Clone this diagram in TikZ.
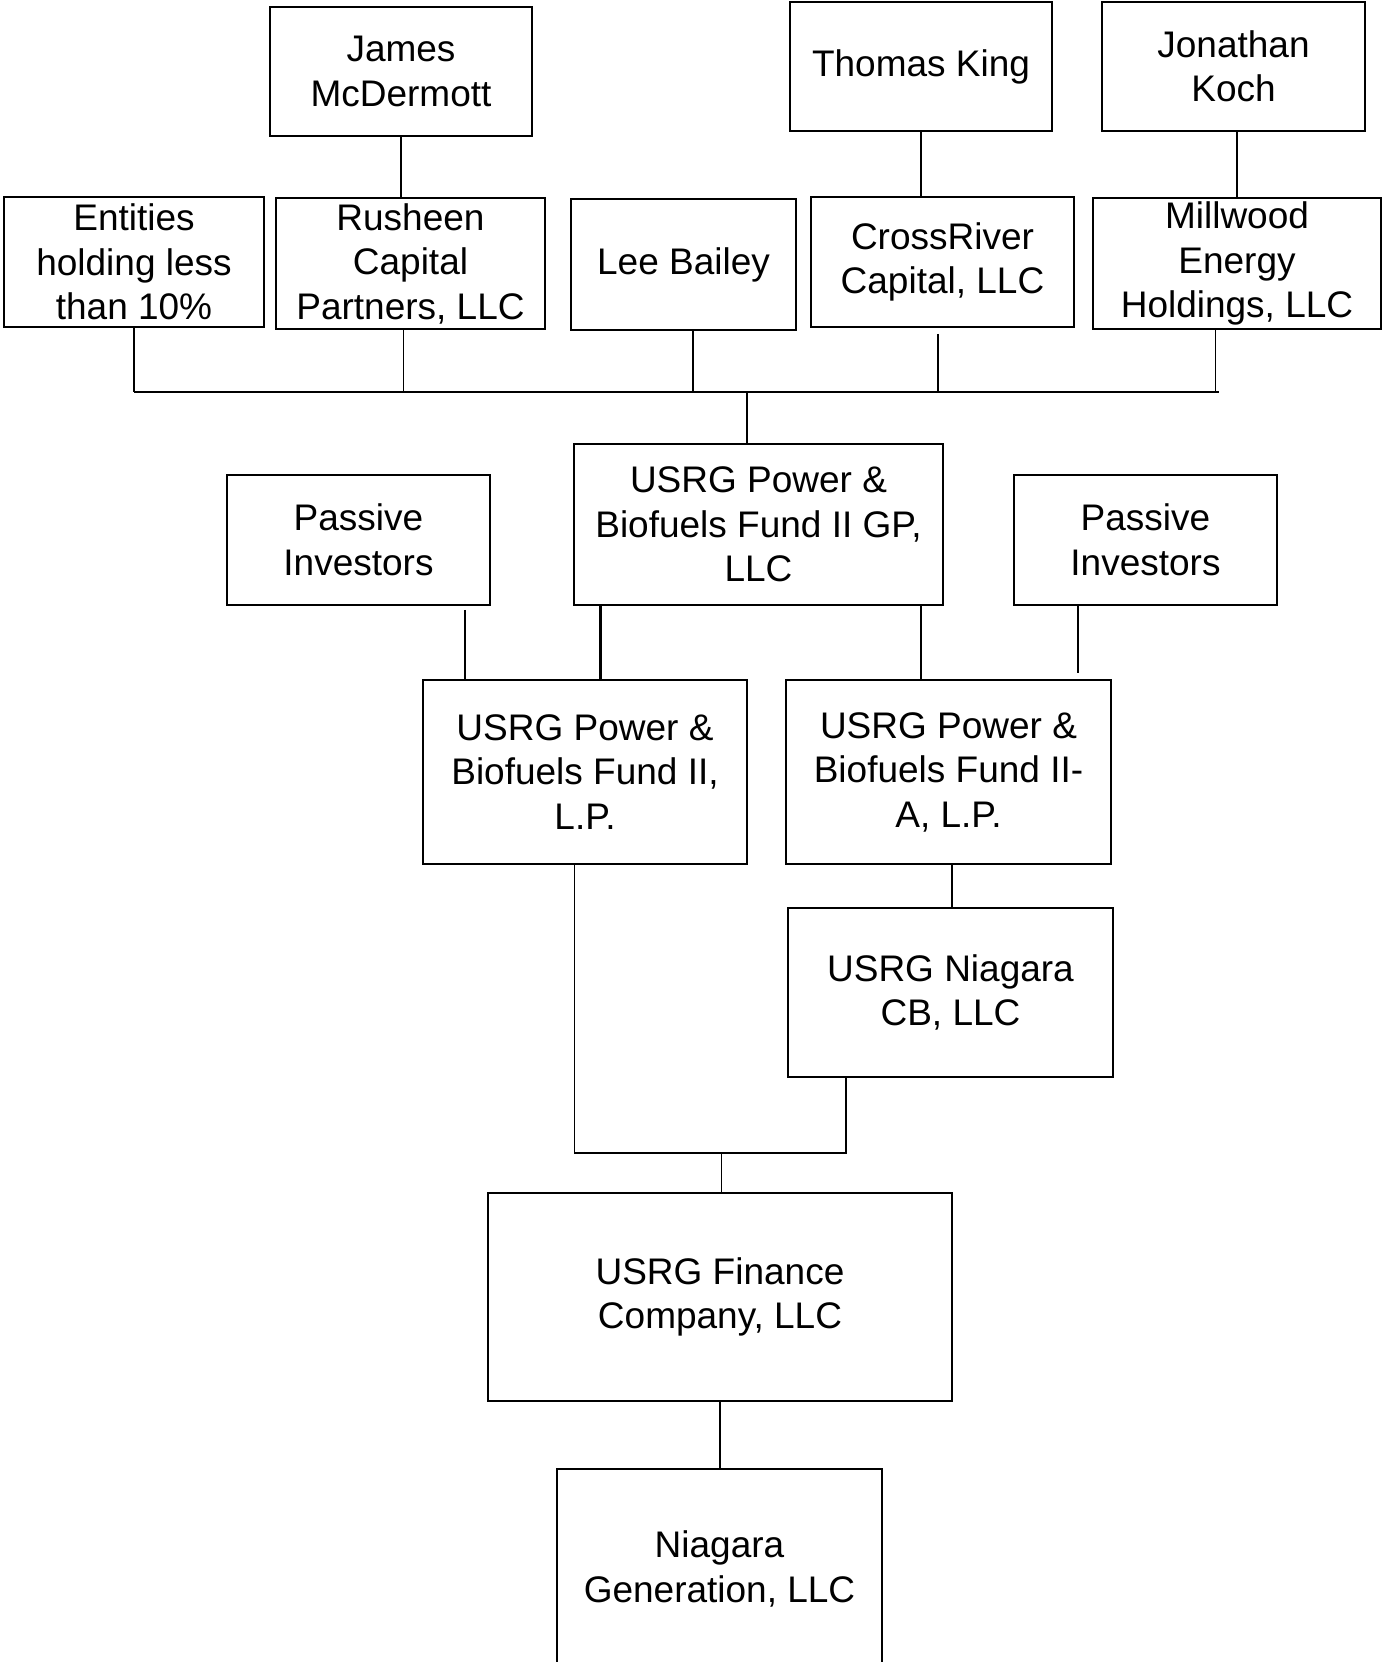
\documentclass[tikz,border=0pt]{standalone}
\usepackage{fontspec}
\setmainfont{Liberation Sans}
\usetikzlibrary{positioning,calc}

\begin{document}
\begin{tikzpicture}[x=1pt,y=-1pt,
      entbox/.style={draw=black,line width=1.8pt,inner sep=0pt,align=center,
        text=black,font=\fontsize{37}{44.5}\selectfont},
      link/.style={line width=1.8pt,black},
      heavylink/.style={line width=2.8pt,black}]
    \useasboundingbox (0,0) rectangle (1383,1662);
    \clip (0,0) rectangle (1383,1662);

    % Owners at the top.
    \node[entbox,minimum width=262pt,minimum height=129pt] (mcdermott) at (401,71.5) {James\\McDermott};
    \node[entbox,minimum width=262pt,minimum height=129pt] (king) at (921,66.5) {Thomas King};
    \node[entbox,minimum width=263pt,minimum height=129pt] (koch) at (1233.5,66.5) {Jonathan\\Koch};

    % Holders of the general partner.
    \node[entbox,minimum width=260pt,minimum height=130pt] (entities) at (134,262) {Entities\\holding less\\than 10\%};
    \node[entbox,minimum width=269pt,minimum height=131pt] (rusheen) at (410.5,263.5) {Rusheen\\Capital\\Partners, LLC};
    \node[entbox,minimum width=225pt,minimum height=131pt] (bailey) at (683.5,264.5) {Lee Bailey};
    \node[entbox,minimum width=263pt,minimum height=130pt] (crossriver) at (942.5,262) {CrossRiver\\Capital, LLC};
    \node[entbox,minimum width=288pt,minimum height=131pt] (millwood) at (1237,263.5) {Millwood\\Energy\\Holdings, LLC};

    \draw[heavylink] (mcdermott.south) -- (mcdermott.south |- rusheen.north);
    \draw[heavylink] (king.south) -- (king.south |- crossriver.north);
    \draw[link] (millwood.north) -- (millwood.north |- koch.south);

    % Common bus towards the GP.
    \coordinate (busL) at (134,392);
    \coordinate (busR) at (1219,392);
    \draw[link] (busL) -- (busR);
    \draw[link] (entities.south) -- (entities.south |- busL);
    \draw[link] ([xshift=-7pt]rusheen.south) -- ([xshift=-7pt]rusheen.south |- busL);
    \draw[link] ([xshift=9.5pt]bailey.south) -- ([xshift=9.5pt]bailey.south |- busL);
    \draw[link] ([xshift=-4.5pt,yshift=-6pt]crossriver.south) -- ([xshift=-4.5pt]crossriver.south |- busL);
    \draw[link] ([xshift=-21.5pt]millwood.south) -- ([xshift=-21.5pt]millwood.south |- busL);

    % General partner and the two funds.
    \node[entbox,minimum width=369pt,minimum height=161pt] (gp) at (758.5,524.5) {USRG Power \&\\Biofuels Fund II GP,\\LLC};
    \node[entbox,minimum width=263pt,minimum height=130pt] (passiveL) at (358.5,540) {Passive\\Investors};
    \node[entbox,minimum width=263pt,minimum height=130pt] (passiveR) at (1145.5,540) {Passive\\Investors};
    \node[entbox,minimum width=324pt,minimum height=184pt] (fundii) at (585,772) {USRG Power \&\\Biofuels Fund II,\\L.P.};
    \node[entbox,minimum width=325pt,minimum height=184pt] (fundiia) at (948.5,772) {USRG Power \&\\Biofuels Fund II-\\A, L.P.};

    \draw[link] (747,392) -- (747,392 |- gp.north);
    \draw[link] ([xshift=-26pt,yshift=-4pt]passiveL.south east) -- ([xshift=-26pt]passiveL.south east |- fundii.north);
    \draw[heavylink] ([xshift=27pt]gp.south west) -- ([xshift=27pt]gp.south west |- fundii.north);
    \draw[heavylink] ([xshift=-23pt]gp.south east) -- ([xshift=-23pt]gp.south east |- fundiia.north);
    \draw[link,shorten >=6pt] ([xshift=65pt]passiveR.south west) -- ([xshift=65pt]passiveR.south west |- fundiia.north);

    % Lower chain down to the plant.
    \node[entbox,minimum width=325pt,minimum height=169pt] (niagcb) at (950.5,992.5) {USRG Niagara\\CB, LLC};
    \node[entbox,minimum width=464pt,minimum height=208pt] (finance) at (720,1297) {USRG Finance\\Company, LLC};
    \node[entbox,minimum width=325pt,minimum height=200pt] (niaggen) at (719.5,1569) {Niagara\\Generation, LLC};

    \draw[heavylink] ([xshift=3.5pt]fundiia.south) -- ([xshift=3.5pt]fundiia.south |- niagcb.north);
    \coordinate (joinL) at (574.5,1153);
    \coordinate (joinR) at (846,1153);
    \draw[link] ([xshift=-10.5pt]fundii.south) -- (joinL) -- (joinR) -- (joinR |- niagcb.south);
    \draw[link] (721.5,1153) -- (721.5,1153 |- finance.north);
    \draw[link] (finance.south) -- (finance.south |- niaggen.north);
  \end{tikzpicture}
\end{document}
